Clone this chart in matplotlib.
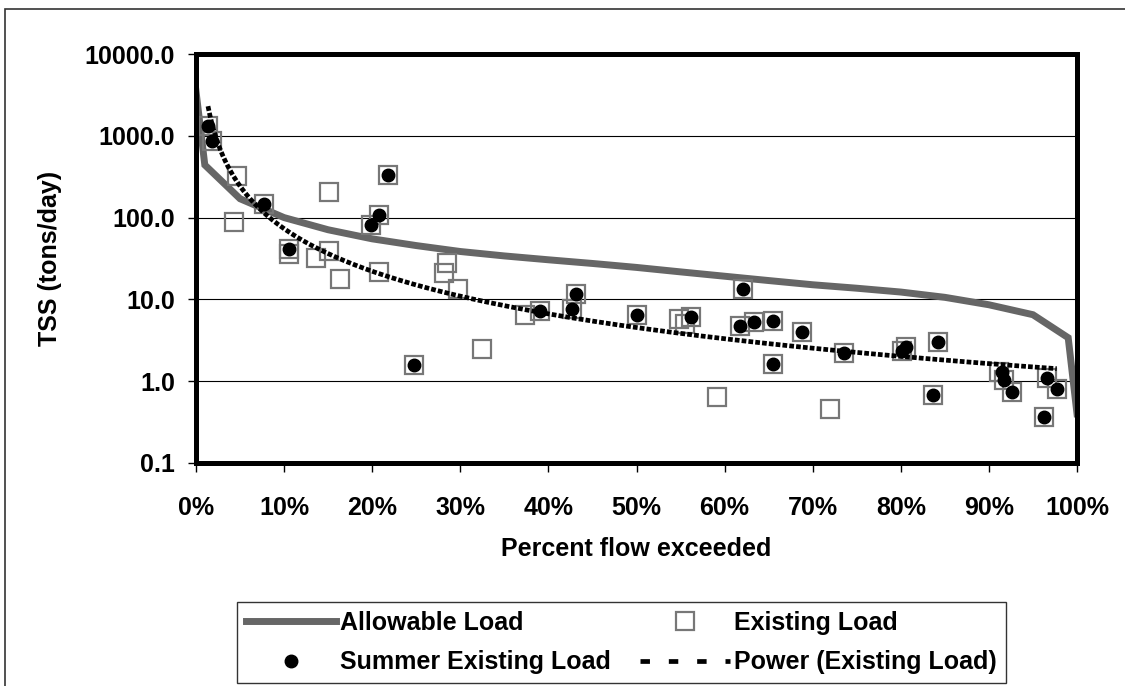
import numpy as np
import matplotlib
matplotlib.use('Agg')
import matplotlib.pyplot as plt
from matplotlib.patches import Rectangle
from matplotlib.ticker import FixedLocator, FuncFormatter, NullLocator

plt.rcParams['font.family'] = ['Liberation Sans', 'DejaVu Sans']
plt.rcParams['font.weight'] = 'bold'
plt.rcParams['font.size'] = 18

# allowable load (load duration curve)
allow_pct = [0, 1, 5, 10, 15, 20, 25, 30, 35, 40, 45, 50, 55, 60, 65, 70,
             75, 80, 85, 90, 95, 99, 100]
allow_load = [3500, 440, 170, 100, 71, 55, 45.5, 38.5, 34, 30.5, 27.5, 24.6,
              21.7, 19.2, 17, 15.1, 13.7, 12.3, 10.6, 8.6, 6.5, 3.4, 0.4]

# existing load samples
exist_pct = [1.36, 1.8, 4.6, 4.3, 7.7, 15.1, 21.8, 20.8, 19.9, 10.6, 10.6,
             13.6, 15.1, 16.4, 20.8, 28.5, 28.1, 29.7, 37.4, 32.5, 24.7, 39.1,
             43.1, 42.7, 50.0, 54.8, 55.5, 56.2, 59.1, 62.1, 61.8, 63.3, 65.5,
             65.5, 68.8, 73.5, 72.0, 80.1, 80.6, 84.2, 83.7, 91.1, 91.7, 92.6,
             96.6, 97.7, 96.3]
exist_load = [1320, 870, 325, 88, 148, 207, 334, 109, 82, 41.9, 36.4,
              31.9, 38.8, 18.0, 21.9, 27.7, 20.9, 13.4, 6.5, 2.45, 1.57, 7.2,
              11.5, 7.6, 6.4, 5.7, 5.0, 6.15, 0.64, 13.5, 4.72, 5.28, 5.5,
              1.61, 4.0, 2.19, 0.456, 2.35, 2.63, 2.99, 0.675, 1.29, 1.04, 0.73,
              1.08, 0.80, 0.37]

# summer samples (subset of existing)
summer_pct = [1.36, 1.8, 7.7, 21.8, 20.8, 19.9, 10.6, 24.7, 39.1, 43.1, 42.7,
              50.0, 56.2, 62.1, 61.8, 63.3, 65.5, 65.5, 68.8, 73.5, 80.1, 80.6,
              84.2, 83.7, 91.5, 91.7, 92.6, 96.6, 97.7, 96.3]
summer_load = [1320, 870, 148, 334, 109, 82, 41.9, 1.57, 7.2, 11.5, 7.6,
               6.4, 6.15, 13.5, 4.72, 5.28, 5.5, 1.61, 4.0, 2.19, 2.35, 2.63,
               2.99, 0.675, 1.29, 1.04, 0.73, 1.08, 0.80, 0.37]

# power trendline fitted to existing load (like Excel)
xe = np.array(exist_pct) / 100.0
ye = np.array(exist_load)
b, a = np.polyfit(np.log(xe), np.log(ye), 1)
xt = np.linspace(xe.min(), xe.max(), 400)
yt = np.exp(a) * xt ** b

fig = plt.figure(figsize=(11.25, 6.86), dpi=100)
ax = fig.add_axes([196/1125, 1-463/686, (1077-196)/1125, (463-54)/686])

ax.plot(allow_pct, allow_load, color='#666666', lw=5, solid_joinstyle='miter',
        label='Allowable Load', zorder=3)
ax.plot(exist_pct, exist_load, ls='none', marker='s', ms=13.5, mfc='none',
        mec='#777777', mew=1.6, label='Existing Load', zorder=4)
ax.plot(summer_pct, summer_load, ls='none', marker='o', ms=9, color='black',
        label='Summer Existing Load', zorder=5)
ax.plot(xt * 100, yt, color='black', lw=3.4, ls=(0, (1.0, 0.45)),
        label='Power (Existing Load)', zorder=6)

ax.set_yscale('log')
ax.set_ylim(0.1, 10000)
ax.set_xlim(0, 100)
ax.yaxis.set_major_locator(FixedLocator([0.1, 1, 10, 100, 1000, 10000]))
ax.yaxis.set_minor_locator(NullLocator())
ax.yaxis.set_major_formatter(FuncFormatter(lambda v, p: '%.1f' % v))
ax.xaxis.set_major_locator(FixedLocator(range(0, 101, 10)))
ax.xaxis.set_major_formatter(FuncFormatter(lambda v, p: '%d%%' % v))
ax.grid(axis='y', color='black', lw=0.8)
ax.set_axisbelow(True)

for s in ax.spines.values():
    s.set_linewidth(3.6)
    s.set_zorder(7)
ax.tick_params(axis='x', direction='out', length=6.5, width=1, pad=17)
ax.tick_params(axis='y', direction='out', length=6, width=1, pad=9)

ax.set_xlabel('Percent flow exceeded', fontweight='bold')
ax.xaxis.set_label_coords(0.5, -0.181)
ax.xaxis.label.set_va('top')
ax.set_ylabel('TSS (tons/day)', fontweight='bold')
ax.yaxis.set_label_coords(-0.152, 0.5)

h, l = ax.get_legend_handles_labels()
order = [0, 2, 1, 3]
leg = ax.legend([h[i] for i in order], [l[i] for i in order], ncol=2,
                loc='upper left', bbox_to_anchor=(237/1125, 1-602/686),
                bbox_transform=fig.transFigure, borderaxespad=0,
                frameon=True, fancybox=False, edgecolor='black',
                handlelength=3.6, handletextpad=0.15, columnspacing=1.2,
                borderpad=0.35, labelspacing=0.62, fontsize=18)
leg.get_frame().set_linewidth(1)
leg.legend_handles[3].set_dashes((2, 4))

# outer chart frame
fig.patches.append(Rectangle((5/1125, -0.1), 2, 1.1 - 9/686, fill=False,
                             edgecolor='#333333', lw=1.2,
                             transform=fig.transFigure))

plt.savefig('out.png', dpi=100)
